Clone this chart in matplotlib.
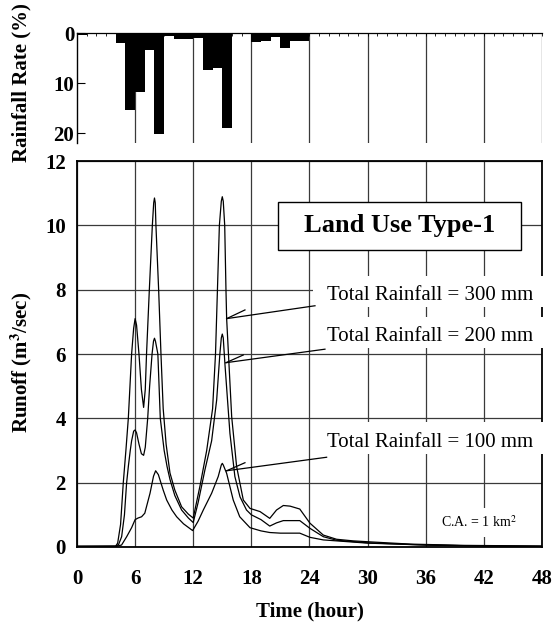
import matplotlib
matplotlib.use("Agg")
import matplotlib.pyplot as plt
from matplotlib.patches import Rectangle

plt.rcParams['font.family'] = ['Liberation Serif', 'DejaVu Serif']
plt.rcParams['mathtext.fontset'] = 'stix'

# Hourly rainfall distribution (% of total), hour index = start of interval
rain_hours = list(range(24))
rain_rate = [0.4, 0.0, 0.0, 0.0, 1.9, 15.3, 11.7, 3.4, 20.1, 0.5, 1.1, 1.1,
             1.0, 7.4, 6.9, 19.0, 0.0, 0.0, 1.7, 1.5, 0.7, 2.9, 1.5, 1.5]

# Runoff hydrographs (m3/sec) for three storm totals
t300 = [0, 4.0, 4.2, 4.5, 4.78, 5.05, 5.3, 5.64, 5.85, 6.0, 6.15, 6.4, 6.65, 6.88,
        7.05, 7.18, 7.47, 7.78, 7.92, 8.0, 8.08, 8.15, 8.43, 8.67, 8.9, 9.2, 9.6,
        10.1, 10.8, 11.5, 12.0, 12.7, 13.39, 14.0, 14.3, 14.5, 14.7, 14.9, 15.0,
        15.1, 15.25, 15.38, 15.45, 15.62, 15.97, 16.48, 17.17, 17.86, 18.9, 19.9,
        20.6, 21.3, 22.0, 23.0, 24.05, 25.43, 26.8, 28.5, 30.2, 34.4, 40, 48]
q300 = [0.02, 0.03, 0.12, 0.7, 2.0, 3.0, 4.0, 6.0, 6.8, 7.1, 6.9, 6.0, 4.9, 4.34,
        4.9, 6.0, 8.0, 10.0, 10.7, 10.85, 10.7, 10.0, 8.0, 6.0, 4.3, 3.2, 2.3,
        1.77, 1.25, 1.02, 0.9, 1.9, 3.0, 4.3, 6.0, 8.0, 10.0, 10.75, 10.89,
        10.75, 10.0, 8.0, 7.1, 6.1, 4.05, 2.5, 1.46, 1.2, 1.1, 0.89,
        1.15, 1.29, 1.27, 1.18, 0.74, 0.37, 0.24, 0.19, 0.16, 0.09, 0.05, 0.03]

t200 = [0, 4.0, 4.3, 4.61, 4.9, 5.12, 5.3, 5.5, 5.64, 5.85, 6.0, 6.15, 6.4, 6.65,
        6.88, 7.05, 7.3, 7.5, 7.75, 7.9, 8.0, 8.1, 8.35, 8.6, 9.0, 9.3, 9.6, 10.1,
        10.8, 11.5, 12.0, 12.52, 13.21, 13.9, 14.42, 14.75, 14.9, 15.0, 15.1,
        15.27, 15.79, 16.3, 16.83, 17.5, 18.0, 19.0, 19.9, 20.6, 21.3, 23.0,
        24.05, 25.43, 26.8, 30, 36, 42, 48]
q200 = [0.02, 0.02, 0.08, 0.32, 1.0, 1.98, 2.5, 3.0, 3.3, 3.6, 3.64, 3.55, 3.2, 2.9,
        2.85, 3.1, 4.0, 5.0, 6.0, 6.4, 6.49, 6.4, 6.0, 4.0, 3.0, 2.5, 2.1, 1.6,
        1.15, 0.9, 0.76, 1.4, 2.4, 3.3, 4.57, 6.0, 6.5, 6.62, 6.5,
        5.7, 3.53, 2.19, 1.56, 1.15, 1.0, 0.85, 0.65, 0.75, 0.82, 0.82,
        0.58, 0.32, 0.21, 0.13, 0.06, 0.03, 0.02]

t100 = [0, 4.0, 4.6, 5.13, 5.64, 6.0, 6.3, 6.67, 7.0, 7.54, 7.9, 8.12, 8.4, 8.9,
        9.26, 9.8, 10.29, 11.0, 11.94, 12.5, 13.04, 13.9, 14.58, 14.9, 15.0, 15.1,
        15.45, 16.13, 16.8, 17.86, 19.0, 19.9, 21.0, 23.0, 24.05, 25.43, 26.8,
        30, 36, 42, 48]
q100 = [0.02, 0.02, 0.06, 0.32, 0.6, 0.85, 0.9, 0.94, 1.05, 1.67, 2.2, 2.37, 2.25,
        1.77, 1.46, 1.15, 0.94, 0.72, 0.51, 0.8, 1.15, 1.67, 2.19, 2.55, 2.6, 2.55,
        2.29, 1.46, 0.94, 0.6, 0.5, 0.45, 0.43, 0.43, 0.3, 0.22, 0.19,
        0.12, 0.06, 0.03, 0.02]

x_ticks = [0, 6, 12, 18, 24, 30, 36, 42, 48]
runoff_ticks = [0, 2, 4, 6, 8, 10, 12]
rain_ticks = [0, 10, 20]

labels = ["Total Rainfall = 300 mm", "Total Rainfall = 200 mm", "Total Rainfall = 100 mm"]

fig = plt.figure(figsize=(5.55, 6.28), dpi=100)
ax_r = fig.add_axes([0.1387, 0.7723, 0.8378, 0.1747])
ax = fig.add_axes([0.1387, 0.1290, 0.8378, 0.6146])

grid_kw = dict(color='#3a3a3a', linewidth=0.9)
tick_font = dict(fontsize=15, fontweight='bold')
label_font = dict(fontsize=15, fontweight='bold')

# --- rainfall hyetograph ---
ax_r.bar(rain_hours, rain_rate, width=1.0, align='edge', color='black', zorder=3)
ax_r.set_xlim(0, 48)
ax_r.set_ylim(22, 0)
for x in x_ticks[1:]:
    ax_r.axvline(x, **grid_kw, zorder=1)
for s in ['bottom', 'right']:
    ax_r.spines[s].set_visible(False)
ax_r.spines['top'].set_linewidth(0.9)
ax_r.spines['left'].set_linewidth(1.0)
ax_r.xaxis.set_ticks_position('top')
ax_r.set_xticks(range(0, 49))
ax_r.tick_params(axis='x', direction='in', length=2, width=0.6, labeltop=False)
ax_r.set_yticks(rain_ticks)
ax_r.set_yticklabels([str(v) for v in rain_ticks], **tick_font)
ax_r.tick_params(axis='y', direction='in', length=6, width=0.8, pad=2)

# --- runoff hydrographs ---
for t, q in [(t300, q300), (t200, q200), (t100, q100)]:
    ax.plot(t, q, color='black', linewidth=0.9, zorder=4)

ax.set_xlim(0, 48)
ax.set_ylim(0, 12)
ax.set_xticks(x_ticks)
ax.set_yticks(runoff_ticks)
ax.set_xticklabels([str(v) for v in x_ticks], **tick_font)
ax.set_yticklabels([str(v) for v in runoff_ticks], **tick_font)
ax.tick_params(axis='y', direction='in', length=0, pad=8)
ax.tick_params(axis='x', direction='in', length=0, pad=16)
ax.grid(True, **grid_kw, zorder=1)
ax.set_axisbelow(True)
for s in ax.spines.values():
    s.set_linewidth(1.3)
ax.set_xlabel("Time (hour)", labelpad=9, **label_font)

fig.text(21 / 555, 1 - 83 / 628, "Rainfall Rate (%)", rotation=90,
         ha='center', va='center', **label_font)
fig.text(21 / 555, 1 - 362 / 628, "Runoff (m$^\\mathbf{3}$/sec)", rotation=90,
         ha='center', va='center', **label_font)

# title box
ax.add_patch(Rectangle((20.78, 9.23), 25.02, 1.5, facecolor='white',
                       edgecolor='black', linewidth=1.0, zorder=5))
ax.text(33.29, 9.98, "Land Use Type-1", fontsize=19, fontweight='bold',
        ha='center', va='center', zorder=6)

# storm-total labels with leader lines
label_base = [7.68, 6.40, 3.12]
leader_start = [(15.45, 7.10), (15.38, 5.73), (15.45, 2.37)]
leader_end = [(24.57, 7.50), (25.6, 6.15), (25.77, 2.79)]
barb_end = [(17.34, 7.37), (17.17, 5.97), (17.34, 2.62)]
for lab, yb, p0, p1, pb in zip(labels, label_base, leader_start, leader_end, barb_end):
    ax.add_patch(Rectangle((24.4, yb - 0.22), 24.0, 0.98, facecolor='white',
                           edgecolor='none', zorder=5, clip_on=False))
    ax.text(25.78, yb, lab, fontsize=15, ha='left', va='baseline', zorder=6)
    ax.plot([p0[0], p1[0]], [p0[1], p1[1]], color='black', linewidth=0.9, zorder=6)
    ax.plot([p0[0], pb[0]], [p0[1], pb[1]], color='black', linewidth=0.9, zorder=6)

ax.add_patch(Rectangle((37.0, 0.3), 9.5, 0.9, facecolor='white',
                       edgecolor='none', zorder=5))
ax.text(37.57, 0.63, "C.A. = 1 km$^2$", fontsize=10, ha='left', va='baseline', zorder=6)

fig.savefig("out.png", dpi=100)
